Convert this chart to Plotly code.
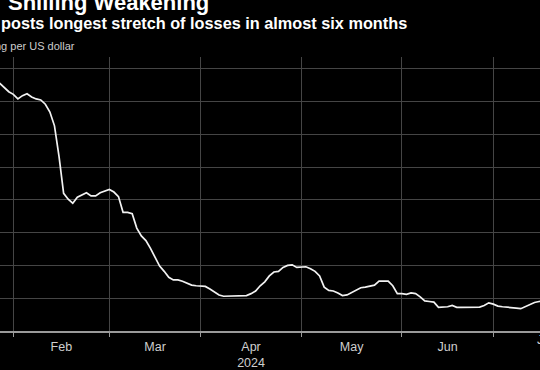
import plotly.graph_objects as go

# Kenyan shilling per US dollar (trading days)
dates = [
    "2024-01-29", "2024-01-30", "2024-01-31",
    "2024-02-01", "2024-02-02", "2024-02-05", "2024-02-06", "2024-02-07", "2024-02-08", "2024-02-09",
    "2024-02-12", "2024-02-13", "2024-02-14", "2024-02-15", "2024-02-16", "2024-02-19", "2024-02-20",
    "2024-02-21", "2024-02-22", "2024-02-23", "2024-02-26", "2024-02-27", "2024-02-28", "2024-02-29",
    "2024-03-01", "2024-03-04", "2024-03-05", "2024-03-06", "2024-03-07", "2024-03-08", "2024-03-11",
    "2024-03-12", "2024-03-13", "2024-03-14", "2024-03-15", "2024-03-18", "2024-03-19", "2024-03-20",
    "2024-03-21", "2024-03-22", "2024-03-25", "2024-03-26", "2024-03-27", "2024-03-28",
    "2024-04-01", "2024-04-02", "2024-04-03", "2024-04-04", "2024-04-05", "2024-04-08", "2024-04-09",
    "2024-04-10", "2024-04-11", "2024-04-12", "2024-04-15", "2024-04-16", "2024-04-17", "2024-04-18",
    "2024-04-19", "2024-04-22", "2024-04-23", "2024-04-24", "2024-04-25", "2024-04-26", "2024-04-29",
    "2024-04-30",
    "2024-05-02", "2024-05-03", "2024-05-06", "2024-05-07", "2024-05-08", "2024-05-09", "2024-05-10",
    "2024-05-13", "2024-05-14", "2024-05-15", "2024-05-16", "2024-05-17", "2024-05-20", "2024-05-21",
    "2024-05-22", "2024-05-23", "2024-05-24", "2024-05-27", "2024-05-28", "2024-05-29", "2024-05-30",
    "2024-05-31",
    "2024-06-03", "2024-06-04", "2024-06-05", "2024-06-06", "2024-06-07", "2024-06-10", "2024-06-11",
    "2024-06-12", "2024-06-13", "2024-06-14", "2024-06-17", "2024-06-18", "2024-06-19", "2024-06-20",
    "2024-06-21", "2024-06-24", "2024-06-25", "2024-06-26", "2024-06-27", "2024-06-28",
    "2024-07-01", "2024-07-02", "2024-07-03", "2024-07-04", "2024-07-05", "2024-07-08", "2024-07-09",
    "2024-07-10", "2024-07-11", "2024-07-12", "2024-07-15", "2024-07-16",
]
kes_per_usd = [
    162.8, 162.2, 161.5,
    161.1, 160.4, 160.9, 161.2, 160.7, 160.4, 160.25,
    159.6, 158.4, 156.3, 151.6, 146.0, 145.1, 144.5,
    145.4, 145.8, 146.1, 145.6, 145.6, 146.1, 146.4,
    146.6, 146.2, 145.5, 143.1, 143.1, 142.9, 140.7,
    139.5, 138.8, 137.6, 136.2, 134.9, 134.1, 133.2,
    132.8, 132.8, 132.6, 132.3, 132.0, 131.9,
    131.9, 131.8, 131.4, 131.0, 130.5, 130.3, 130.3,
    130.3, 130.3, 130.3, 130.4, 130.7, 131.1, 131.9,
    132.5, 133.4, 134.0, 134.1, 134.7, 135.0, 135.1,
    134.7,
    134.8, 134.8, 134.5, 134.1, 133.4, 131.7, 131.2,
    131.1, 130.8, 130.4, 130.5, 130.9, 131.3, 131.6,
    131.7, 131.9, 132.0, 132.6, 132.6, 132.6, 131.9,
    130.7,
    130.7, 130.6, 130.8, 130.7, 130.2, 129.6, 129.5,
    129.4, 128.6, 128.6, 128.7, 128.9, 128.6, 128.6,
    128.6, 128.6, 128.6, 128.65, 128.9, 129.3,
    129.1, 128.8, 128.7, 128.65, 128.65, 128.5, 128.4,
    128.7, 129.1, 129.35, 129.5, 129.6,
]

holidays = ["2024-03-29", "2024-05-01"]
month_starts_tick0 = "2024-01-01"
label_dates = ["2024-02-15 12:00", "2024-03-15", "2024-04-16", "2024-05-17", "2024-06-17"]
label_texts = ["Feb", "Mar", "Apr<br>2024", "May", "Jun"]
x_range = ["2024-01-29 02:00", "2024-07-15 05:00"]
y_range = [125, 166.8]

W, H = 540, 370
T, B = 57, 34
ph = H - T - B


def py(p):
    return (H - B - p) / ph


def px(p):
    return p / W


fig = go.Figure()
fig.add_trace(go.Scatter(
    x=dates, y=kes_per_usd, mode="lines",
    line=dict(color="#f2f2f2", width=1.7),
    hoverinfo="skip", showlegend=False,
))

grid = "#454545"
fig.update_layout(
    width=W, height=H,
    margin=dict(l=0, r=0, t=T, b=B, pad=0),
    paper_bgcolor="#000000", plot_bgcolor="#000000",
    showlegend=False,
    font=dict(family="Liberation Sans, Arial, sans-serif", color="#cfcfcf"),
    xaxis=dict(
        type="date",
        range=x_range,
        rangebreaks=[dict(bounds=["sat", "mon"]), dict(values=holidays)],
        tickmode="array", tickvals=label_dates, ticktext=label_texts,
        ticks="", showgrid=False, zeroline=False,
        showline=True, linecolor="#9a9a9a", linewidth=1.5,
        tickfont=dict(size=12.5, color="#cfcfcf"),
        ticklabelstandoff=3,
        minor=dict(
            tickmode="linear", dtick="M1", tick0=month_starts_tick0,
            showgrid=True, gridcolor=grid, gridwidth=1,
            ticks="outside", ticklen=4, tickcolor="#9a9a9a", tickwidth=1,
        ),
    ),
    yaxis=dict(
        range=y_range, tickmode="linear", tick0=125, dtick=5,
        showgrid=True, gridcolor=grid, gridwidth=1,
        showticklabels=False, zeroline=False, ticks="",
    ),
    annotations=[
        dict(text="<b>Shilling Weakening</b>", xref="paper", yref="paper",
             x=px(6), y=py(2), xanchor="left", yanchor="middle", showarrow=False,
             font=dict(size=22, color="#ffffff", family="Liberation Sans, Arial, sans-serif")),
        dict(text="<b>posts longest stretch of losses in almost six months</b>", xref="paper", yref="paper",
             x=px(-1), y=py(22), xanchor="left", yanchor="middle", showarrow=False,
             font=dict(size=16.3, color="#ffffff", family="Liberation Sans, Arial, sans-serif")),
        dict(text="ng per US dollar", xref="paper", yref="paper",
             x=px(-7), y=py(45.5), xanchor="left", yanchor="middle", showarrow=False,
             font=dict(size=11, color="#cccccc", family="Liberation Sans, Arial, sans-serif")),
        dict(text="Jul", xref="paper", yref="paper",
             x=px(535), y=py(345), xanchor="left", yanchor="middle", showarrow=False,
             font=dict(size=12.5, color="#cfcfcf", family="Liberation Sans, Arial, sans-serif")),
    ],
)

fig.write_html(
    "out.html",
    config={"displayModeBar": False, "staticPlot": True},
    post_script="document.body.style.margin='0';document.body.style.padding='0';"
                "document.body.style.background='#000';document.body.style.overflow='hidden';",
)
